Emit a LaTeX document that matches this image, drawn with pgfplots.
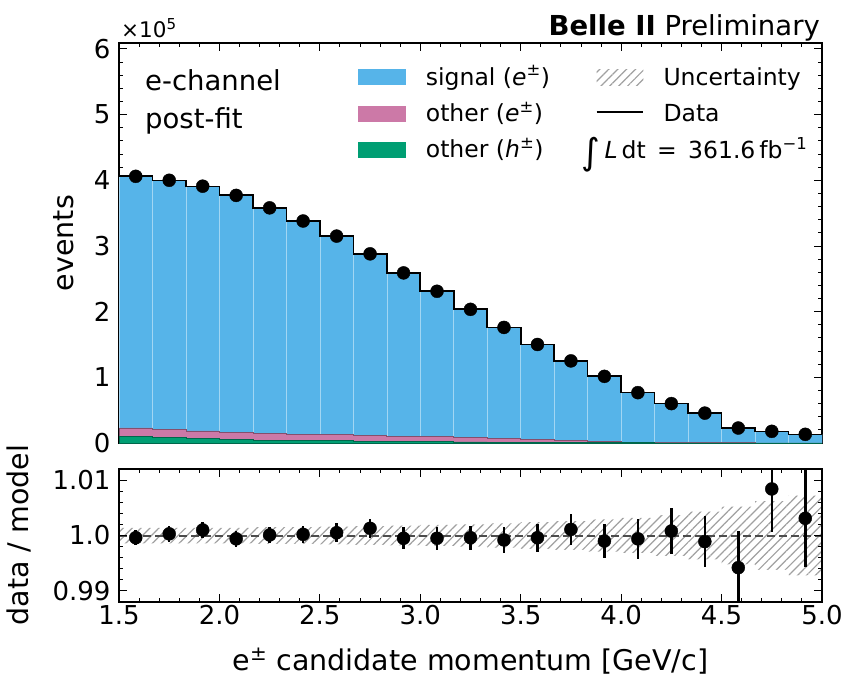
\documentclass[border=0pt]{standalone}
\usepackage{fontspec}
\setmainfont{DejaVu Sans}
\usepackage{pgfplots}
\usepackage{pgfplotstable}
\pgfplotsset{compat=1.18}
\usetikzlibrary{patterns.meta}

\definecolor{sigc}{HTML}{56B4E9}
\definecolor{oec}{HTML}{CC79A7}
\definecolor{ohc}{HTML}{009E73}
\definecolor{hatchc}{HTML}{A0A0A0}

\newcommand{\lbl}{\fontsize{27.5}{33}\selectfont}
\newcommand{\axl}{\fontsize{28.5}{34}\selectfont}
\newcommand{\tck}{\fontsize{26}{31}\selectfont}
\newcommand{\leg}{\fontsize{23.5}{28}\selectfont}

% bin left edges (last row closes the final bin), in units of 10^5 events
\pgfplotstableread{
x        sig     oe      oh      unc
1.5      3.8316  0.135   0.095   0.0014
1.66667  3.7888  0.124   0.086   0.0014
1.83333  3.7211  0.118   0.067   0.0014
2.0      3.6123  0.108   0.052   0.0014
2.16667  3.4296  0.105   0.045   0.0015
2.33333  3.2493  0.090   0.040   0.0015
2.5      3.0234  0.090   0.035   0.0016
2.66667  2.7613  0.085   0.030   0.0017
2.83333  2.4913  0.075   0.025   0.0018
3.0      2.2162  0.075   0.020   0.0019
3.16667  1.9508  0.069   0.016   0.0020
3.33333  1.6914  0.058   0.012   0.0022
3.5      1.4456  0.046   0.009   0.0024
3.66667  1.2086  0.033   0.007   0.0026
3.83333  0.9910  0.020   0.005   0.0029
4.0      0.7525  0.012   0.003   0.0032
4.16667  0.5915  0.006   0.002   0.0037
4.33333  0.4505  0.004   0.001   0.0043
4.5      0.2263  0.002   0.001   0.0052
4.66667  0.1745  0.0015  0.0005  0.0062
4.83333  0.1306  0.0005  0.0005  0.0072
5.0      0.1306  0.0005  0.0005  0.0072
}\hist

% data at bin centres: events (10^5), data/model ratio and its error
\pgfplotstableread{
x        ev      r       rerr
1.58333  4.06    0.9996  0.0014
1.75     4.00    1.0003  0.0014
1.91667  3.91    1.0010  0.0014
2.08333  3.77    0.9994  0.0014
2.25     3.58    1.0001  0.0015
2.41667  3.38    1.0002  0.0016
2.58333  3.15    1.0005  0.0017
2.75     2.88    1.0013  0.0017
2.91667  2.59    0.9995  0.0020
3.08333  2.31    0.9995  0.0021
3.25     2.035   0.9996  0.0022
3.41667  1.76    0.9992  0.0023
3.58333  1.50    0.9996  0.0025
3.75     1.25    1.0011  0.0028
3.91667  1.015   0.9990  0.0031
4.08333  0.767   0.9994  0.0036
4.25     0.60    1.0008  0.0041
4.41667  0.455   0.9989  0.0046
4.58333  0.228   0.9942  0.0066
4.75     0.178   1.0084  0.0077
4.91667  0.132   1.0031  0.0087
}\data

\pgfplotsset{
  panel/.style={
    scale only axis, width=703pt,
    xmin=1.5, xmax=5,
    xtick={1.5,2,2.5,3,3.5,4,4.5,5},
    minor x tick num=4,
    tick align=inside,
    major tick length=8pt, minor tick length=4pt,
    tick style={black, line width=0.9pt},
    axis line style={black, line width=1.3pt},
    tick label style={font=\tck},
    yticklabel style={xshift=-5pt},
  }
}

\begin{document}
\begin{tikzpicture}
\useasboundingbox (0,0) rectangle (846pt,-678pt);

% upper panel: stacked histogram
\begin{axis}[panel, at={(119pt,-443pt)}, anchor=south west, height=400pt,
  ymin=0, ymax=6.09, ytick={0,1,2,3,4,5,6}, yticklabels={0,1,2,3,4,5,6},
  minor y tick num=4, xticklabels={}]
  \addplot[const plot, fill=sigc, draw=none]
    table[x=x, y expr=\thisrow{sig}+\thisrow{oe}+\thisrow{oh}] \hist \closedcycle;
  \addplot[ycomb, draw=sigc!55!white, line width=0.6pt]
    table[x=x, y expr=\thisrow{sig}+\thisrow{oe}+\thisrow{oh}] \hist;
  \addplot[const plot, fill=oec, draw=oec!65!black, line width=0.7pt]
    table[x=x, y expr=\thisrow{oe}+\thisrow{oh}] \hist \closedcycle;
  \addplot[const plot, fill=ohc, draw=ohc!65!black, line width=0.7pt]
    table[x=x, y=oh] \hist \closedcycle;
  \addplot[const plot, black, line width=1.6pt]
    table[x=x, y expr=\thisrow{sig}+\thisrow{oe}+\thisrow{oh}] \hist;
  \addplot[only marks, mark=*, mark size=6.5pt, black] table[x=x, y=ev] \data;
\end{axis}

% lower panel: data / model
\begin{axis}[panel, at={(119pt,-602pt)}, anchor=south west, height=133pt,
  ymin=0.988, ymax=1.012, ytick={0.99,1,1.01}, yticklabels={0.99,1.0,1.01},
  minor y tick num=4, axis on top,
  xticklabels={1.5,2.0,2.5,3.0,3.5,4.0,4.5,5.0}]
  % hatched band: fill below the upper edge, then blank out below the lower edge
  \addplot[const plot, draw=none,
    pattern={Lines[angle=45, distance=6.3pt, line width=1.2pt]}, pattern color=hatchc]
    table[x=x, y expr=1+\thisrow{unc}] \hist \closedcycle;
  \addplot[const plot, draw=none, fill=white]
    table[x=x, y expr=1-\thisrow{unc}] \hist \closedcycle;
  \addplot[black!70, line width=2pt, dash pattern=on 8pt off 4pt]
    coordinates {(1.5,1) (5,1)};
  \addplot[only marks, mark=*, mark size=6.5pt, black,
    error bars/.cd, y dir=both, y explicit, error mark=none,
    error bar style={line width=2.5pt, black}]
    table[x=x, y=r, y error=rerr] \data;
\end{axis}

% axis labels and annotations
\node[anchor=base east, font=\lbl, inner sep=0pt] at (820pt,-35pt) {\textbf{Belle II} Preliminary};
\node[anchor=base west, font=\fontsize{21.5}{25}\selectfont, inner sep=0pt] at (121pt,-37pt) {×10\textsuperscript{5}};
\node[rotate=90, anchor=base, font=\axl] at (73pt,-243pt) {events};
\node[rotate=90, anchor=base, font=\axl] at (28pt,-535pt) {data / model};
\node[anchor=base, font=\axl] at (470.5pt,-670pt) {e\textsuperscript{±} candidate momentum [GeV/c]};

\node[anchor=base west, font=\lbl, inner sep=0pt] at (145pt,-90pt) {e-channel};
\node[anchor=base west, font=\lbl, inner sep=0pt] at (145pt,-128pt) {post-fit};

% legend
\fill[sigc] (358pt,-69pt) rectangle (406pt,-85pt);
\fill[oec]  (358pt,-105.5pt) rectangle (406pt,-121.5pt);
\fill[ohc]  (358pt,-141.5pt) rectangle (406pt,-157.5pt);
\node[anchor=base west, font=\leg, inner sep=0pt] at (425.7pt,-85pt) {signal (\textit{e}\textsuperscript{±})};
\node[anchor=base west, font=\leg, inner sep=0pt] at (425.7pt,-121.5pt) {other (\textit{e}\textsuperscript{±})};
\node[anchor=base west, font=\leg, inner sep=0pt] at (425.7pt,-157.5pt) {other (\textit{h}\textsuperscript{±})};
\fill[pattern={Lines[angle=45, distance=6.3pt, line width=1.2pt]}, pattern color=hatchc]
  (596.7pt,-69pt) rectangle (643.3pt,-85pt);
\draw[black, line width=2pt] (596.7pt,-112pt) -- (643.3pt,-112pt);
\node[anchor=base west, font=\leg, inner sep=0pt] at (663.3pt,-85pt) {Uncertainty};
\node[anchor=base west, font=\leg, inner sep=0pt] at (663.3pt,-121.5pt) {Data};
\node[anchor=base west, font=\leg, inner sep=0pt] at (581.7pt,-158.3pt)
  {\raisebox{-6pt}{\fontsize{36}{36}\selectfont ∫}\,\textit{L}\,dt\, =\, 361.6\,fb\textsuperscript{−1}};
\end{tikzpicture}
\end{document}
